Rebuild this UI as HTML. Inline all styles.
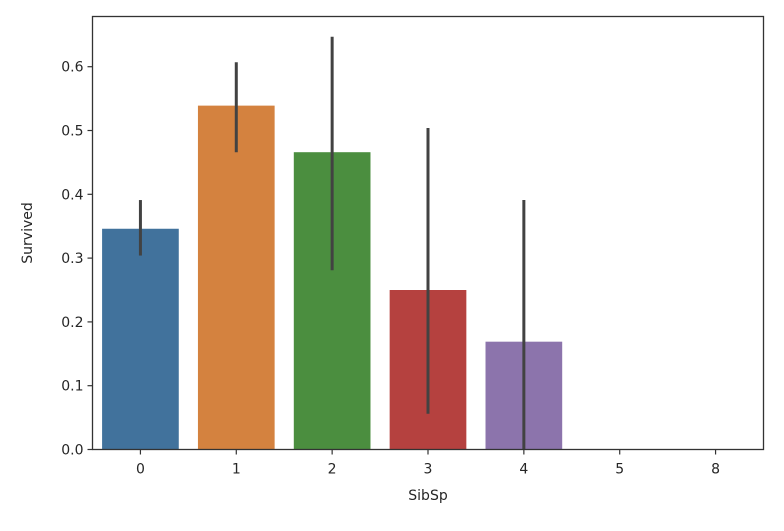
<!DOCTYPE html>
<html><head><meta charset="utf-8"><style>
body{margin:0;background:#fff;}
svg text{font-family:"DejaVu Sans","Liberation Sans",sans-serif;fill:#262626;}
</style></head><body>
<svg id="chart" width="784" height="526" xmlns="http://www.w3.org/2000/svg">
<g id="bars"></g>
<g id="errs"></g>
<rect x="92.5" y="16.5" width="671" height="433" fill="none" stroke="#333" stroke-width="1.3"/>
<g id="xticks"></g>
<g id="yticks"></g>
<text x="428" y="500" font-size="14" text-anchor="middle">SibSp</text>
<text transform="translate(32,233) rotate(-90)" font-size="14" text-anchor="middle">Survived</text>
</svg>
<script>
const categories=["0","1","2","3","4","5","8"];
const values=[0.346,0.539,0.466,0.25,0.169,0,0];
const ciLow=[0.304,0.466,0.281,0.056,0,0,0];
const ciHigh=[0.391,0.607,0.647,0.504,0.391,0,0];
const colors=["#41729c","#d4823f","#4b8e3f","#b5413f","#8c74ac","#845b53","#d684bd"];
const yTickLabels=["0.0","0.1","0.2","0.3","0.4","0.5","0.6"];
const yTickValues=[0,0.1,0.2,0.3,0.4,0.5,0.6];
const L=92.5,R=763.5,T=16.5,B=449.5,YMAX=0.6787;
const step=(R-L)/categories.length;
const xc=i=>L+step*(i+0.5);
const y=v=>B-(v/YMAX)*(B-T);
const NS="http://www.w3.org/2000/svg";
function mk(tag,attrs,parent){const e=document.createElementNS(NS,tag);for(const k in attrs)e.setAttribute(k,attrs[k]);parent.appendChild(e);return e;}
const gb=document.getElementById('bars'),ge=document.getElementById('errs'),gx=document.getElementById('xticks'),gy=document.getElementById('yticks');
categories.forEach((c,i)=>{
  const w=step*0.8;
  if(values[i]>0){
    const r=mk('rect',{x:xc(i)-w/2,y:y(values[i]),width:w,height:B-y(values[i]),fill:colors[i]},gb);
    
    
  }
  if(ciHigh[i]>ciLow[i]){
    const l=mk('line',{x1:xc(i),x2:xc(i),y1:y(ciLow[i]),y2:y(ciHigh[i]),stroke:'#424242','stroke-width':3},ge);
    
    
  }
  const t=mk('line',{x1:xc(i),x2:xc(i),y1:B,y2:B+5,stroke:'#333','stroke-width':1.2},gx);
  
  
  const tx=mk('text',{x:xc(i),y:B+24,'font-size':14,'text-anchor':'middle'},gx);
  tx.textContent=c;
  
  
});
yTickValues.forEach((v,i)=>{
  const t=mk('line',{x1:L-5,x2:L,y1:y(v),y2:y(v),stroke:'#333','stroke-width':1.2},gy);
  
  
  const tx=mk('text',{x:L-9,y:y(v)+5,'font-size':14,'text-anchor':'end'},gy);
  tx.textContent=yTickLabels[i];
  
  
});
</script>
</body></html>
